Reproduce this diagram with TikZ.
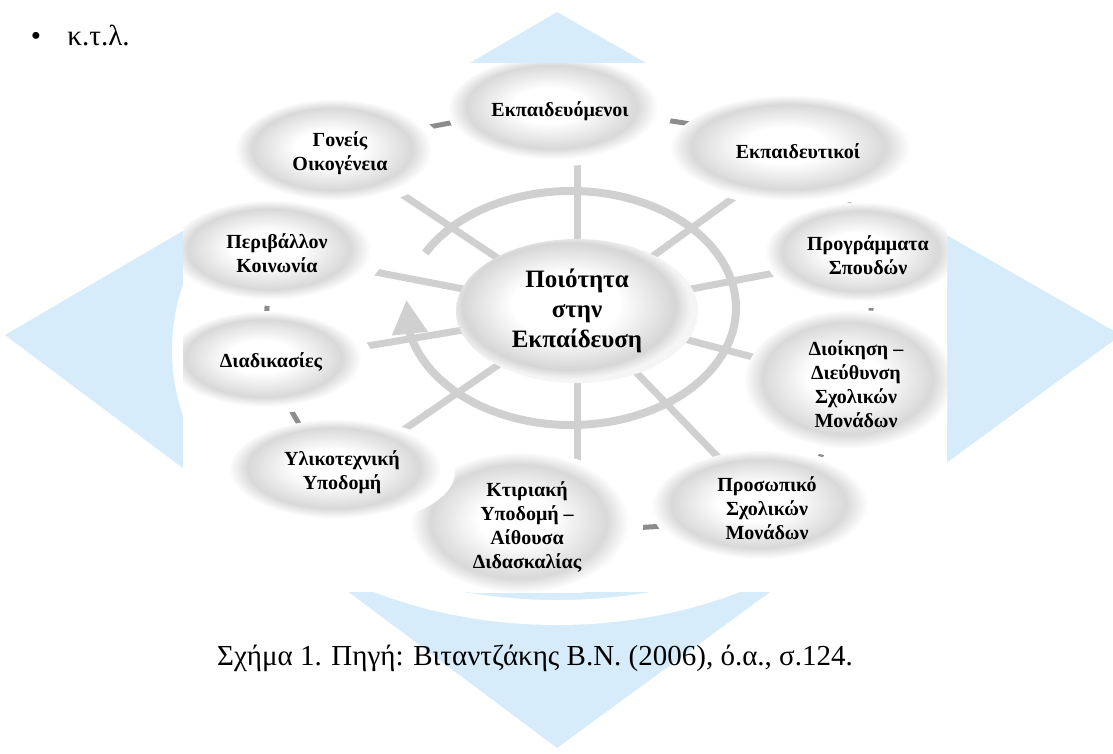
\documentclass[tikz,border=0pt]{standalone}
\usepackage{fontspec}
\setmainfont{Liberation Serif}
\usetikzlibrary{positioning}
\usetikzlibrary{shapes.geometric,arrows.meta,bending}
\pgfdeclarelayer{wm}
\pgfdeclarelayer{back}
\pgfsetlayers{wm,back,main}
\definecolor{wmblue}{RGB}{214,236,250}
\definecolor{spokegray}{RGB}{208,208,208}
\definecolor{chaingray}{RGB}{140,140,140}
% the middle 50bp of a shading covers the node: border at 25bp
\pgfdeclareradialshading{bubble}{\pgfpoint{-3bp}{3bp}}{color(0bp)=(white); color(8bp)=(white); color(19bp)=(black!15); color(23.5bp)=(white); color(50bp)=(white)}
\pgfdeclareradialshading{hubshade}{\pgfpoint{-3bp}{3bp}}{color(0bp)=(white); color(11bp)=(white); color(22bp)=(black!16); color(25bp)=(black!4); color(50bp)=(white)}

\begin{document}
\begin{tikzpicture}[x=1pt,y=-1pt,align=center,
    bub/.style={ellipse,shade,shading=bubble,inner sep=0pt,font=\bfseries\fontsize{20}{24}\selectfont},
    spoke/.style={spokegray,line width=7pt},
    ring/.style={spokegray,line width=8pt,-{Triangle[length=34pt,width=34pt]}},
    chainline/.style={chaingray,line width=5pt}]
	\useasboundingbox (0,0) rectangle (1113,753);
	\begin{pgfonlayer}{wm}
		\fill[wmblue] (5,335) -- (557,12) -- (1121,335) -- (557,748) -- cycle;
		\fill[white,even odd rule] (557,350) ellipse [x radius=385,y radius=275] (557,350) ellipse [x radius=370,y radius=250];
		\fill[white] (183,63) rectangle (947,592);
	\end{pgfonlayer}
		\node[inner sep=0pt,font=\fontsize{29}{34}\selectfont] (bul) at (36,39) {•};
		\node[inner sep=0pt,font=\fontsize{29}{34}\selectfont] (ktl)[base right = 26pt of bul]{κ.τ.λ.};
		\coordinate (hub) at (571,308);
	\begin{scope}
		\clip (183,63) rectangle (947,592);
		\node[bub,shading=hubshade,minimum width=242pt,minimum height=144pt,font=\bfseries\fontsize{25}{30}\selectfont] (mid) at (577,311) {Ποιότητα\\στην\\Εκπαίδευση};
		\node[bub,minimum width=224pt,minimum height=110pt] (math) at (560,111) {Εκπαιδευόμενοι};
		\node[bub,minimum width=256pt,minimum height=112pt] (ekp) at (798,151) {Εκπαιδευτικοί};
		\node[bub,minimum width=206pt,minimum height=106pt] (prog) at (868,255) {Προγράμματα\\Σπουδών};
		\node[bub,minimum width=224pt,minimum height=148pt] (dioik) at (856,384) {Διοίκηση –\\Διεύθυνση\\Σχολικών\\Μονάδων};
		\node[bub,minimum width=230pt,minimum height=116pt] (pros) at (767,508) {Προσωπικό\\Σχολικών\\Μονάδων};
		\node[bub,minimum width=232pt,minimum height=150pt] (ktir) at (527,527) {Κτιριακή\\Υποδομή –\\Αίθουσα\\Διδασκαλίας};
		\node[bub,minimum width=226pt,minimum height=106pt] (ylik) at (342,472) {Υλικοτεχνική\\Υποδομή};
		\node[bub,minimum width=206pt,minimum height=102pt] (diad) at (271,362) {Διαδικασίες};
		\node[bub,minimum width=214pt,minimum height=106pt] (periv) at (277,253) {Περιβάλλον\\Κοινωνία};
		\node[bub,minimum width=210pt,minimum height=108pt] (gon) at (340,153) {Γονείς\\Οικογένεια};
	\end{scope}
		\node[anchor=base,font=\fontsize{29}{34}\selectfont] (cap) at (535,665) {Σχήμα 1. Πηγή: Βιταντζάκης Β.Ν. (2006), ό.α., σ.124.};
	\begin{pgfonlayer}{back}
		\draw[chainline] plot[smooth cycle] coordinates {(gon.center) (math.center) (ekp.center) (prog.center) (dioik.center) (pros.center) (ktir.center) (ylik.center) (diad.center) (periv.center)};
		\foreach \n in {gon,ekp,prog,dioik,pros,ylik,diad,periv}
			\draw[spoke] (mid.center) -- (\n.center);
		\draw[spoke] (mid.center) -- (mid.center |- math.center);
		\draw[spoke] (mid.center) -- (mid.center |- ktir.center);
		\draw[ring] ([shift={(208:165 and 117)}]hub) arc[start angle=208,end angle=544,x radius=165,y radius=117];
	\end{pgfonlayer}
	\end{tikzpicture}
\end{document}
